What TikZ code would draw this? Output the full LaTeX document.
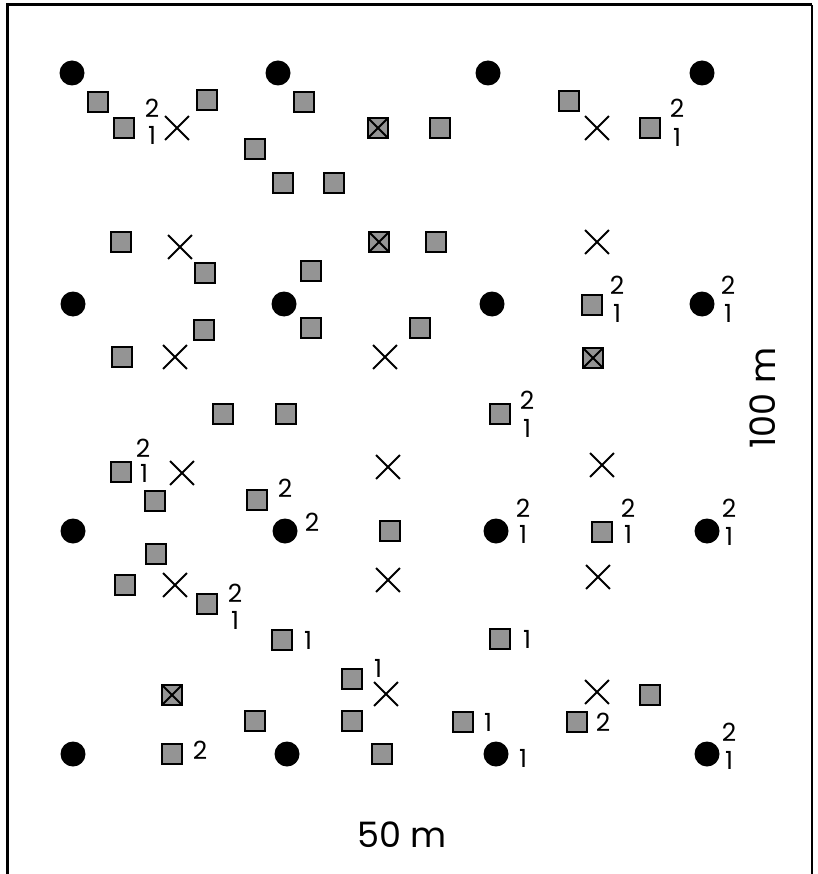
\documentclass[tikz,border=0pt]{standalone}
\usepackage{fontspec}
\setmainfont{Poppins}
\usetikzlibrary{shapes.misc}
\begin{document}
\begin{tikzpicture}[x=1pt,y=-1pt,
  sqm/.style={rectangle, draw=black, line width=2.2pt, fill=black!42, minimum size=20pt, inner sep=0pt},
  xsqm/.style={sqm, path picture={\draw[line width=2pt] (path picture bounding box.north west) -- (path picture bounding box.south east) (path picture bounding box.north east) -- (path picture bounding box.south west);}},
  dotm/.style={circle, fill=black, minimum size=25pt, inner sep=0pt},
  xm/.style={cross out, draw=black, line width=1.9pt, minimum size=22pt, inner sep=0pt},
  lab/.style={font=\fontsize{25}{25}\selectfont, inner sep=0pt},
  big/.style={font=\fontsize{35}{35}\selectfont, inner sep=0pt}]
\useasboundingbox (0,0) rectangle (817,874);
\fill[white] (0,0) rectangle (817,874);
\draw[line width=3pt] (7,874) -- (7,5) -- (812,5);
\draw[line width=2pt] (812,5) -- (812,874);
\foreach \x/\y [count=\i] in {98/102,124/128,207/100,304/102,255/149,283/183,334/183,440/128,569/101,650/128,
  121/242,205/273,311/271,436/242,204/330,311/328,420/328,122/357,592/305,223/414,286/414,500/414,
  121/472,155/501,257/500,390/531,602/532,156/554,125/585,207/604,282/640,500/639,
  352/679,650/695,255/721,352/721,463/722,577/722,172/754,382/754}
  \node[sqm] (s\i) at (\x,\y) {};
\foreach \x/\y [count=\i] in {378/128,379/242,593/358,172/695}
  \node[xsqm] (q\i) at (\x,\y) {};
\foreach \x/\y [count=\i] in {72/73,278/73,488/73,702/73,73/304,284/304,492/304,702/304,
  73/531,285/531,496/531,707/531,73/754,287/754,496/754,707/754}
  \node[dotm] (c\i) at (\x,\y) {};
\foreach \x/\y [count=\i] in {177/128,597/128,180/247,597/242,175/357,385/357,182/473,388/467,
  602/465,175/585,388/580,598/577,386/694,597/692}
  \node[xm] (x\i) at (\x,\y) {};
\foreach \t/\x/\y [count=\i] in {2/152/108,1/152/135,2/677/108,1/677/137,2/617/285,1/617/313,
  2/728/285,1/728/313,2/527/400,1/527/428,2/143/448,1/144/473,2/285/488,2/312/522,
  2/523/508,1/523/534,2/628/508,1/628/534,2/729/508,1/729/536,2/235/593,1/235/620,
  1/308/640,1/527/639,1/378/668,2/200/750,1/488/722,2/603/722,1/523/758,2/729/732,1/729/760}
  \node[lab] (l\i) at (\x,\y) {\t};
\node[big] (w) at (402,835) {50 m};
\node[big, rotate=90] (h) at (763,398) {100 m};
\end{tikzpicture}
\end{document}
